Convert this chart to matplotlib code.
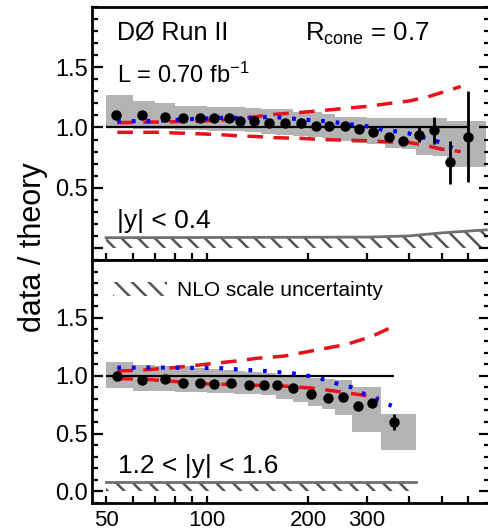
import matplotlib
matplotlib.use("Agg")
import matplotlib.pyplot as plt
from matplotlib.ticker import FixedLocator, MultipleLocator, NullLocator
from matplotlib.patches import Patch

plt.rcParams['font.family'] = ['Liberation Sans', 'DejaVu Sans']
plt.rcParams['mathtext.default'] = 'regular'
plt.rcParams['hatch.linewidth'] = 1.8

# |y| < 0.4
top_pt = [53.6, 64, 75, 85, 95, 105, 116, 125, 138, 153, 171, 190, 211, 231,
          257, 283, 312, 348, 384, 429, 476, 528, 598]
top_val = [1.10, 1.10, 1.09, 1.075, 1.075, 1.075, 1.075, 1.055, 1.05, 1.035,
           1.04, 1.035, 1.015, 1.015, 1.01, 0.985, 0.965, 0.92, 0.89, 0.94,
           0.975, 0.71, 0.925]
top_err = [0.005] * 17 + [0.01, 0.02, 0.06, 0.11, 0.18, 0.38]
top_edges = [50, 60, 70, 80, 90, 100, 110, 120, 130, 145, 160, 180, 200, 220,
             240, 270, 300, 340, 380, 420, 470, 520, 580, 680]
top_sys_hi = [1.27, 1.22, 1.20, 1.18, 1.18, 1.17, 1.17, 1.17, 1.16, 1.15,
              1.15, 1.13, 1.125, 1.11, 1.09, 1.085, 1.08, 1.08, 1.08, 1.08,
              1.08, 1.05, 1.05]
top_sys_lo = [1.00, 0.99, 0.99, 0.98, 0.98, 0.97, 0.97, 0.97, 0.96, 0.95,
              0.94, 0.93, 0.92, 0.91, 0.89, 0.87, 0.86, 0.83, 0.82, 0.77,
              0.76, 0.67, 0.67]
top_pdf_pt = [54, 70, 90, 110, 125, 140, 160, 190, 220, 260, 300, 350, 400,
              450, 500, 570]
top_pdf_hi = [1.04, 1.045, 1.05, 1.06, 1.075, 1.09, 1.11, 1.125, 1.14, 1.16,
              1.175, 1.20, 1.22, 1.25, 1.29, 1.34]
top_pdf_lo = [0.96, 0.96, 0.95, 0.94, 0.93, 0.925, 0.915, 0.91, 0.90, 0.895,
              0.89, 0.88, 0.875, 0.85, 0.82, 0.80]
top_mrst_pt = [54, 70, 90, 110, 140, 155, 190, 230, 270, 300, 340, 370, 400,
               480, 530, 570]
top_mrst = [1.05, 1.055, 1.07, 1.08, 1.08, 1.09, 1.067, 1.05, 1.025, 1.01,
            0.975, 0.967, 0.95, 0.89, 0.84, 0.80]
top_scale_pt = [50, 300, 400, 500, 680]
top_scale = [0.085, 0.09, 0.10, 0.125, 0.15]

# 1.2 < |y| < 1.6
bot_pt = [54, 64, 75, 85, 95, 105, 118, 133, 148, 162, 180, 204, 230, 255,
          281, 310, 360]
bot_val = [1.00, 0.965, 0.975, 0.94, 0.94, 0.93, 0.94, 0.92, 0.92, 0.92,
           0.89, 0.845, 0.81, 0.82, 0.74, 0.765, 0.60]
bot_err = [0.005] * 15 + [0.025, 0.065]
bot_edges = [50, 60, 70, 80, 90, 100, 110, 120, 130, 145, 160, 180, 200, 220,
             240, 270, 330, 420]
bot_sys_hi = [1.12, 1.09, 1.08, 1.08, 1.07, 1.06, 1.05, 1.04, 1.03, 1.02,
              1.00, 0.99, 0.98, 0.97, 0.96, 0.90, 0.67]
bot_sys_lo = [0.89, 0.87, 0.87, 0.86, 0.86, 0.85, 0.85, 0.84, 0.84, 0.83,
              0.80, 0.775, 0.74, 0.71, 0.66, 0.51, 0.36]
bot_pdf_pt = [54, 65, 80, 100, 125, 140, 170, 210, 260, 310, 355]
bot_pdf_hi = [1.04, 1.05, 1.07, 1.10, 1.13, 1.15, 1.17, 1.22, 1.27, 1.34, 1.42]
bot_pdf_lo_pt = [54, 65, 80, 100, 130, 170, 210, 250, 310, 325]
bot_pdf_lo = [0.975, 0.97, 0.95, 0.93, 0.92, 0.91, 0.89, 0.86, 0.82, 0.81]
bot_mrst_pt = [54, 80, 110, 130, 150, 180, 210, 245, 270, 295, 355]
bot_mrst = [1.07, 1.07, 1.065, 1.05, 1.04, 1.02, 0.99, 0.93, 0.90, 0.84, 0.74]
bot_scale_pt = [50, 420]
bot_scale = [0.085, 0.085]

x_ticks = [50, 60, 70, 80, 90, 100, 200, 300, 400, 500, 600]
x_ticklabels = ['50', '', '', '', '', '100', '200', '300', '', '', '']

fig = plt.figure(figsize=(4.88, 5.32), dpi=100)
W, H = 488, 532
ax1 = fig.add_axes([92 / W, 1 - 260 / H, 398 / W, 253 / H])
ax2 = fig.add_axes([92 / W, 1 - 503 / H, 398 / W, 243 / H])


def draw_panel(ax, pt, val, err, edges, sys_hi, sys_lo, pdf_pt_hi, pdf_hi,
               pdf_pt_lo, pdf_lo, mrst_pt, mrst, scale_pt, scale):
    ax.stairs(sys_hi, edges, baseline=sys_lo, fill=True, color='#b3b3b3',
              lw=0, zorder=1)
    ax.fill_between(scale_pt, 0, scale, facecolor='none', edgecolor='#555555',
                    hatch='\\\\', linewidth=0, zorder=1)
    ax.plot(scale_pt, scale, color='#707070', lw=2.0, zorder=2)
    ax.hlines(1.0, edges[0], pt[-1], color='black', lw=1.6, zorder=2)
    ax.plot(pdf_pt_hi, pdf_hi, color='#e8101a', lw=2.5, dashes=(4.5, 3),
            zorder=3)
    ax.plot(pdf_pt_lo, pdf_lo, color='#e8101a', lw=2.5, dashes=(4.5, 3),
            zorder=3)
    ax.plot(mrst_pt, mrst, color='#0000ff', lw=3.0, dashes=(0.9, 2.6),
            zorder=3)
    ax.errorbar(pt, val, yerr=err, fmt='o', color='black', ms=6.5,
                elinewidth=2.0, capsize=0, zorder=4)

    ax.set_xscale('log')
    ax.set_xlim(45.4, 697)
    ax.set_ylim(-0.1, 2.0)
    ax.xaxis.set_major_locator(FixedLocator(x_ticks))
    ax.xaxis.set_minor_locator(NullLocator())
    ax.yaxis.set_minor_locator(MultipleLocator(0.1))
    ax.tick_params(axis='both', which='both', direction='in', right=True,
                   top=False, labelsize=17, width=1.6)
    ax.tick_params(axis='y', which='major', length=8, pad=3)
    ax.tick_params(axis='y', which='minor', length=4.5)
    ax.tick_params(axis='x', which='major', length=5, pad=5, labelsize=16)
    for sp in ax.spines.values():
        sp.set_linewidth(2)


draw_panel(ax1, top_pt, top_val, top_err, top_edges, top_sys_hi, top_sys_lo,
           top_pdf_pt, top_pdf_hi, top_pdf_pt, top_pdf_lo, top_mrst_pt,
           top_mrst, top_scale_pt, top_scale)
draw_panel(ax2, bot_pt, bot_val, bot_err, bot_edges, bot_sys_hi, bot_sys_lo,
           bot_pdf_pt, bot_pdf_hi, bot_pdf_lo_pt, bot_pdf_lo, bot_mrst_pt,
           bot_mrst, bot_scale_pt, bot_scale)

ax1.set_yticks([0, 0.5, 1.0, 1.5], ['', '0.5', '1.0', '1.5'])
ax1.set_xticklabels([])
ax2.set_yticks([0, 0.5, 1.0, 1.5], ['0.0', '0.5', '1.0', '1.5'])
ax2.set_xticklabels(x_ticklabels)

ax1.text(0.063, 0.87, 'DØ Run II', transform=ax1.transAxes, fontsize=18)
ax1.text(0.063, 0.70, 'L = 0.70 fb$^{-1}$', transform=ax1.transAxes,
         fontsize=17)
ax1.text(0.535, 0.866, 'R$_{cone}$ = 0.7', transform=ax1.transAxes,
         fontsize=18.5)
ax1.text(0.063, 0.126, '|y| < 0.4', transform=ax1.transAxes, fontsize=19)
ax2.text(0.065, 0.123, '1.2 < |y| < 1.6', transform=ax2.transAxes,
         fontsize=19)

scale_handle = Patch(facecolor='white', edgecolor='#555555', hatch='\\\\',
                     linewidth=0)
ax2.legend([scale_handle], ['NLO scale uncertainty'], loc='upper left',
           bbox_to_anchor=(0.005, 0.99), frameon=False, fontsize=15,
           handlelength=2.6, handletextpad=0.5)

fig.text(33 / W, 1 - 247 / H, 'data / theory', rotation=90, fontsize=22,
         ha='center', va='center')

fig.savefig('out.png', dpi=100)
